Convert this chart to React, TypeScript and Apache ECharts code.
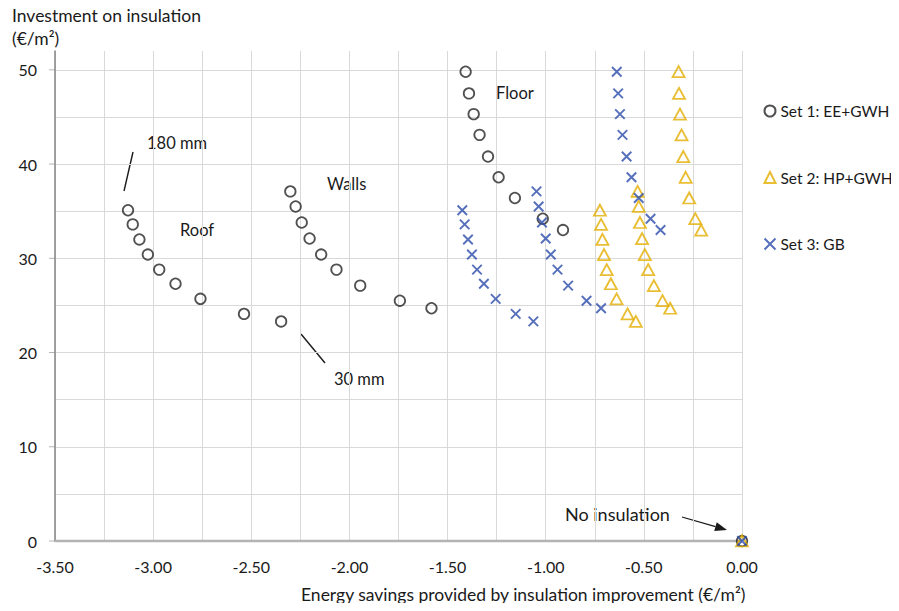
import React, { useEffect, useRef } from "react";
import * as echarts from "echarts";

// Investment (€/m²) for each insulation thickness step (180 mm → 30 mm)
const roofInvest = [35.1, 33.6, 32.0, 30.4, 28.8, 27.3, 25.7, 24.1, 23.3];
const wallsInvest = [37.1, 35.5, 33.8, 32.1, 30.4, 28.8, 27.1, 25.5, 24.7];
const floorInvest = [49.8, 47.5, 45.3, 43.1, 40.8, 38.6, 36.4, 34.2, 33.0];

// Energy savings (€/m²) — Set 1: EE+GWH
const set1Roof = [-3.128, -3.104, -3.07, -3.027, -2.969, -2.886, -2.759, -2.537, -2.348];
const set1Walls = [-2.301, -2.274, -2.243, -2.203, -2.144, -2.066, -1.945, -1.743, -1.582];
const set1Floor = [-1.408, -1.391, -1.367, -1.337, -1.294, -1.24, -1.157, -1.015, -0.912];

// Set 2: HP+GWH
const set2Roof = [-0.724, -0.718, -0.711, -0.703, -0.689, -0.668, -0.639, -0.583, -0.541];
const set2Walls = [-0.532, -0.526, -0.52, -0.509, -0.495, -0.478, -0.449, -0.405, -0.366];
const set2Floor = [-0.323, -0.321, -0.316, -0.308, -0.299, -0.287, -0.269, -0.238, -0.208];

// Set 3: GB
const set3Roof = [-1.425, -1.413, -1.396, -1.376, -1.35, -1.315, -1.255, -1.153, -1.063];
const set3Walls = [-1.047, -1.036, -1.019, -1.0, -0.974, -0.94, -0.886, -0.792, -0.718];
const set3Floor = [-0.638, -0.631, -0.622, -0.609, -0.588, -0.563, -0.526, -0.466, -0.415];

const noInsulation = [0, 0];

const seriesNames = ["Set 1: EE+GWH", "Set 2: HP+GWH", "Set 3: GB"];
const yTickLabels = [0, 10, 20, 30, 40, 50];

const xMin = -3.5;
const xMax = 0;
const yMin = 0;
const yMax = 52;

const FONT = "Lato, 'Open Sans', sans-serif";
const TEXT = "#1a1a1a";

function pairs(xs: number[], ys: number[]) {
  return xs.map((x, i) => [x, ys[i]]);
}

function buildSet(roof: number[], walls: number[], floor: number[]) {
  return [
    ...pairs(roof, roofInvest),
    ...pairs(walls, wallsInvest),
    ...pairs(floor, floorInvest),
    noInsulation,
  ];
}

export default function App() {
  const ref = useRef<HTMLDivElement>(null);

  useEffect(() => {
    if (!ref.current) return;
    const chart = echarts.init(ref.current, null, { renderer: "svg" });

    const ySplitColors: string[] = [];
    for (let v = yMin; v <= 50; v += 5) ySplitColors.push("#d9d9d9");
    ySplitColors.push("transparent");

    const arrowTip = [727, 530];
    const arrowStart = [682, 517];
    const dx = arrowTip[0] - arrowStart[0];
    const dy = arrowTip[1] - arrowStart[1];
    const len = Math.sqrt(dx * dx + dy * dy);
    const ux = dx / len;
    const uy = dy / len;
    const headL = 12;
    const headW = 4.5;
    const bx = arrowTip[0] - ux * headL;
    const by = arrowTip[1] - uy * headL;

    const label = (s: string, x: number, y: number, size = 16.5) => ({
      type: "text",
      x,
      y,
      style: {
        text: s,
        font: `${size}px ${FONT}`,
        fill: TEXT,
        verticalAlign: "middle",
        align: "left",
      },
    });

    const baseGraphic: any[] = [
      label("Investment on insulation", 12, 15, 17.5),
      label("(€/m²)", 12, 38, 17.5),
      label("Energy savings provided by insulation improvement (€/m²)", 301, 594, 17.5),
      label("Floor", 496, 93),
      label("Walls", 327, 184),
      label("Roof", 180, 230),
      label("180 mm", 147, 143),
      label("30 mm", 334, 379),
      label("No insulation", 565, 514, 18),
      {
        type: "line",
        shape: { x1: 133, y1: 152, x2: 124, y2: 191 },
        style: { stroke: "#1a1a1a", lineWidth: 1.4 },
      },
      {
        type: "line",
        shape: { x1: 301, y1: 334, x2: 325, y2: 363 },
        style: { stroke: "#1a1a1a", lineWidth: 1.4 },
      },
      {
        type: "line",
        shape: { x1: arrowStart[0], y1: arrowStart[1], x2: bx, y2: by },
        style: { stroke: "#1a1a1a", lineWidth: 1.3 },
      },
      {
        type: "polygon",
        shape: {
          points: [
            [arrowTip[0], arrowTip[1]],
            [bx - uy * headW, by + ux * headW],
            [bx + uy * headW, by - ux * headW],
          ],
        },
        style: { fill: "#1a1a1a" },
      },
    ];

    chart.setOption({
      animation: false,
      backgroundColor: "#ffffff",
      grid: { left: 55, right: 157, top: 51, bottom: 70, containLabel: false },
      xAxis: {
        type: "value",
        min: xMin,
        max: xMax,
        interval: 0.25,
        axisLine: { show: false },
        axisTick: { show: false },
        axisLabel: {
          margin: 17,
          fontSize: 16,
          fontFamily: FONT,
          color: TEXT,
          formatter: (v: number) =>
            Math.abs(v * 2 - Math.round(v * 2)) < 1e-6 ? v.toFixed(2) : "",
        },
        splitLine: { show: true, lineStyle: { color: "#d9d9d9", width: 1 } },
      },
      yAxis: {
        type: "value",
        min: yMin,
        max: yMax,
        interval: 5,
        axisLine: { show: true, onZero: false, lineStyle: { color: "#8c8c8c", width: 1.6 } },
        axisTick: { show: false },
        axisLabel: {
          margin: 18,
          fontSize: 16,
          fontFamily: FONT,
          color: TEXT,
          formatter: (v: number) => (v % 10 === 0 && v <= 50 ? String(v) : ""),
        },
        splitLine: { show: true, lineStyle: { color: ySplitColors, width: 1 } },
      },
      legend: {
        orient: "vertical",
        left: 763.5,
        top: 102.5,
        padding: 0,
        itemGap: 49.5,
        itemWidth: 11,
        itemHeight: 11,
        textStyle: { fontSize: 15.5, lineHeight: 17, fontFamily: FONT, color: TEXT },
        data: seriesNames,
      },
      graphic: baseGraphic,
      series: [
        {
          name: seriesNames[0],
          type: "scatter",
          symbol: "circle",
          symbolSize: 10.5,
          itemStyle: { color: "transparent", borderColor: "#262626", borderWidth: 1.8 },
          data: buildSet(set1Roof, set1Walls, set1Floor),
          z: 3,
        },
        {
          name: seriesNames[1],
          type: "scatter",
          symbol: "triangle",
          symbolSize: [12, 11],
          itemStyle: { color: "transparent", borderColor: "#E3AE00", borderWidth: 1.8 },
          data: buildSet(set2Roof, set2Walls, set2Floor),
          z: 3,
        },
        {
          name: seriesNames[2],
          type: "scatter",
          symbol: "path://M0,0L10,10M10,0L0,10",
          symbolSize: 9.5,
          itemStyle: { color: "transparent", borderColor: "#2A4BAA", borderWidth: 1.9 },
          data: buildSet(set3Roof, set3Walls, set3Floor),
          z: 3,
        },
      ],
    });

    // Axis baseline at y = 0 and outward y ticks at labelled values, positioned through the chart's scales
    const origin = chart.convertToPixel({ gridIndex: 0 }, [xMin, 0]) as number[];
    const right = chart.convertToPixel({ gridIndex: 0 }, [xMax, 0]) as number[];
    const extra: any[] = [
      {
        type: "line",
        shape: { x1: origin[0], y1: origin[1], x2: right[0], y2: right[1] },
        style: { stroke: "#b3b3b3", lineWidth: 2.4 },
        z: 1,
      },
    ];
    yTickLabels.forEach((v) => {
      const p = chart.convertToPixel({ gridIndex: 0 }, [xMin, v]) as number[];
      extra.push({
        type: "line",
        shape: { x1: p[0] - 6, y1: p[1], x2: p[0], y2: p[1] },
        style: { stroke: "#b3b3b3", lineWidth: 1 },
      });
    });
    chart.setOption({ graphic: [...baseGraphic, ...extra] });

    return () => chart.dispose();
  }, []);

  return <div ref={ref} style={{ width: 899, height: 611, margin: -8 }} />;
}
